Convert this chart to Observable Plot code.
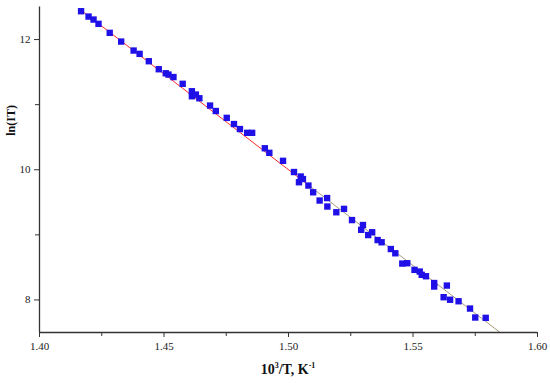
<!DOCTYPE html>
<html>
<head>
<meta charset="utf-8">
<script src="https://cdn.jsdelivr.net/npm/d3@7"></script>
<script src="https://cdn.jsdelivr.net/npm/@observablehq/plot@0.6"></script>
<style>
  body { margin: 0; background: #fff; }
  #chart svg { display: block; }
</style>
</head>
<body>
<div id="chart"></div>
<script>
// 10^3/T values (K^-1)
const invT = [
  1.4167, 1.4197, 1.4217, 1.4237, 1.4282, 1.4328, 1.4378, 1.4402, 1.4439, 1.4479,
  1.4507, 1.4518, 1.4538, 1.4575, 1.4612, 1.4612, 1.4628, 1.4642, 1.4685, 1.4708,
  1.4752, 1.4781, 1.4805, 1.4834, 1.4854, 1.4905, 1.4923, 1.4978, 1.5022, 1.5049,
  1.5042, 1.5058, 1.5080, 1.5099, 1.5125, 1.5155, 1.5156, 1.5192, 1.5223, 1.5255,
  1.5299, 1.5292, 1.5320, 1.5336, 1.5358, 1.5374, 1.5411, 1.5429, 1.5457, 1.5477,
  1.5506, 1.5527, 1.5535, 1.5552, 1.5585, 1.5585, 1.5636, 1.5623, 1.5649, 1.5683,
  1.5729, 1.5750, 1.5792
];
// ln(IT) values
const lnIT = [
  12.435, 12.353, 12.307, 12.241, 12.103, 11.969, 11.831, 11.780, 11.667, 11.544,
  11.482, 11.462, 11.424, 11.320, 11.206, 11.129, 11.155, 11.098, 10.986, 10.902,
  10.797, 10.702, 10.625, 10.567, 10.567, 10.330, 10.260, 10.137, 9.965, 9.896,
  9.808, 9.857, 9.757, 9.654, 9.527, 9.565, 9.435, 9.347, 9.399, 9.227,
  9.151, 9.077, 8.997, 9.040, 8.920, 8.886, 8.782, 8.717, 8.559, 8.564,
  8.462, 8.436, 8.386, 8.364, 8.260, 8.206, 8.221, 8.042, 8.003, 7.980,
  7.868, 7.730, 7.725
];

const xTicks = [1.40, 1.45, 1.50, 1.55, 1.60];
const xMinorTicks = [1.425, 1.475, 1.525, 1.575];
const yTicks = [8, 10, 12];
const yMinorTicks = [9, 11];

// Linear fit: ln(IT) = fitIntercept + fitSlope * (10^3/T)
const fitSlope = -29.42;
const fitIntercept = 54.13;
const fitRedX = [1.4160, 1.5090];
const fitGrayX = [1.5090, 1.5850];

const points = invT.map((x, i) => ({x, y: lnIT[i]}));
const fitLine = xs => xs.map(x => ({x, y: fitIntercept + fitSlope * x}));

const axisColor = "#333";

const chart = Plot.plot({
  width: 550,
  height: 383,
  marginLeft: 39,
  marginRight: 13,
  marginTop: 6.5,
  marginBottom: 51,
  style: {fontFamily: "'Liberation Serif', 'Times New Roman', serif", fontSize: "11px", color: "#222", background: "#fff"},
  x: {domain: [1.40, 1.60]},
  y: {domain: [7.5, 12.5]},
  marks: [
    Plot.line(fitLine(fitRedX), {x: "x", y: "y", stroke: "#ff2a2a", strokeWidth: 1, clip: true}),
    Plot.line(fitLine(fitGrayX), {x: "x", y: "y", stroke: "#a89a7c", strokeWidth: 1, clip: true}),
    Plot.dot(points, {x: "x", y: "y", symbol: "square", r: 3.6, fill: "#1e10e6", stroke: null}),
    Plot.axisX({ticks: xTicks, tickFormat: d3.format(".2f"), tickSize: 5, tickPadding: 5, label: null, stroke: axisColor}),
    Plot.axisX({ticks: xMinorTicks, tickFormat: () => "", tickSize: 4, label: null, stroke: axisColor}),
    Plot.axisY({ticks: yTicks, tickFormat: d3.format("d"), tickSize: 5, tickPadding: 4, label: null, stroke: axisColor}),
    Plot.axisY({ticks: yMinorTicks, tickFormat: () => "", tickSize: 4, label: null, stroke: axisColor}),
    Plot.ruleY([7.5], {stroke: axisColor, strokeWidth: 1.3}),
    Plot.ruleX([1.40], {stroke: axisColor, strokeWidth: 1.3})
  ]
});

const svg = d3.select(chart);
const xs = chart.scale("x");
const ys = chart.scale("y");
const cx = (xs.apply(1.40) + xs.apply(1.60)) / 2;

// x-axis title: 10^3/T, K^-1
const xt = svg.append("text")
  .attr("x", cx).attr("y", 374)
  .attr("text-anchor", "middle")
  .attr("font-family", "'Liberation Serif', 'Times New Roman', serif")
  .attr("font-size", 14).attr("font-weight", "bold").attr("fill", "#111");
xt.append("tspan").text("10");
xt.append("tspan").attr("dy", -6).attr("font-size", 8).text("3");
xt.append("tspan").attr("dy", 6).text("/T, K");
xt.append("tspan").attr("dy", -6).attr("font-size", 8).text("-1");

// y-axis title
svg.append("text")
  .attr("transform", `translate(15,${ys.apply(10.75)}) rotate(-90)`)
  .attr("text-anchor", "middle")
  .attr("font-family", "'Liberation Serif', 'Times New Roman', serif")
  .attr("font-size", 12).attr("font-weight", "bold").attr("fill", "#111")
  .text("ln(IT)");

document.getElementById("chart").appendChild(chart);
</script>
</body>
</html>
